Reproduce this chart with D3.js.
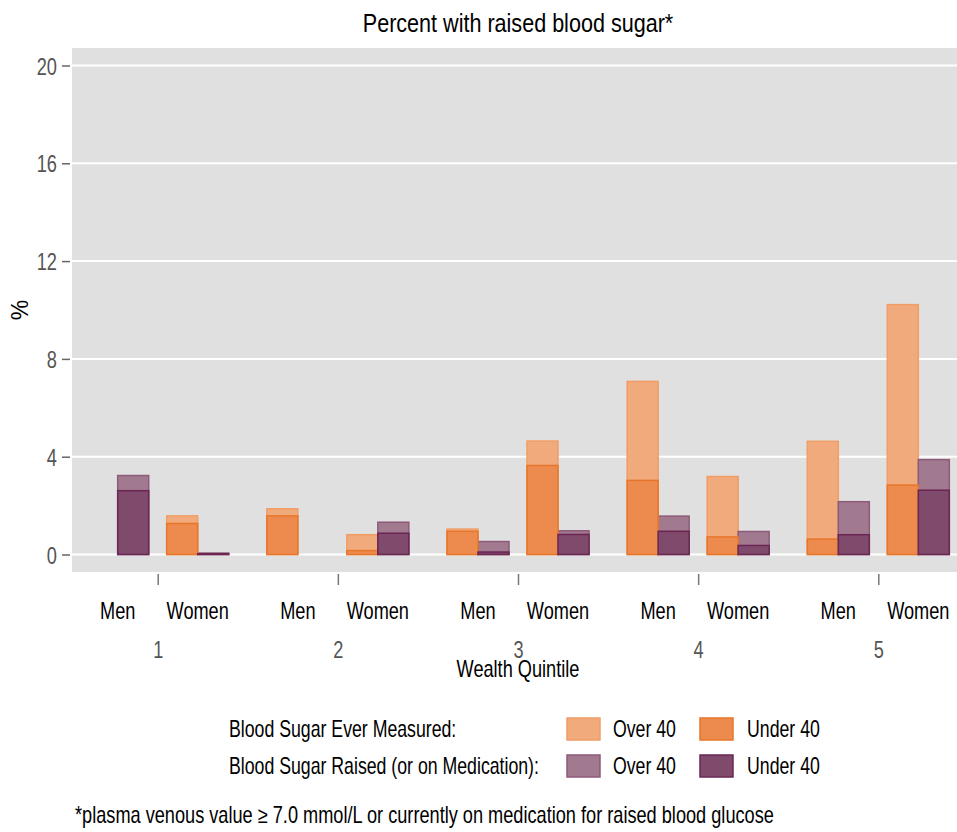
<!DOCTYPE html>
<html>
<head>
<meta charset="utf-8">
<script src="https://cdn.jsdelivr.net/npm/d3@7"></script>
<style>
  body { margin: 0; background: #fff; }
  svg text { font-family: "Liberation Sans", Arial, sans-serif; }
</style>
</head>
<body>
<svg id="svg1" width="957" height="832"></svg>
<script>
// data, order: Men 1, Women 1, Men 2, Women 2, ...
var quintiles = ["1", "2", "3", "4", "5"];
var sexes = ["Men", "Women"];
var yTicks = [0, 4, 8, 12, 16, 20];

var measuredOver40  = [0,    1.58, 1.87, 0.81, 1.04, 4.64, 7.08, 3.19, 4.63, 10.22];
var measuredUnder40 = [0,    1.27, 1.58, 0.16, 0.95, 3.64, 3.03, 0.72, 0.63, 2.84];
var raisedOver40    = [3.23, 0.06, 0,    1.32, 0.53, 0.97, 1.57, 0.94, 2.16, 3.88];
var raisedUnder40   = [2.61, 0.03, 0,    0.87, 0.10, 0.82, 0.95, 0.37, 0.81, 2.63];

var svg = d3.select("#svg1");

var plotLeft = 72, plotRight = 957, plotTop = 48, plotBottom = 572;
var narrow = 0.79;   // horizontal squeeze to mimic a condensed face

var scaleX = d3.scaleLinear().domain([1, 5]).range([157.7, 878.3]);
var scaleSex = d3.scaleBand().domain(sexes).range([-80, 80]);
var scaleSeries = d3.scaleBand().domain(["measured", "raised"]).range([-31, 31]);
var scaleY = d3.scaleLinear().domain([0, 20]).range([554.5, 65.5]);

var colors = {
  measured: { over: "#f1aa7c", overStroke: "#f19d66", under: "#ec8b4d", underStroke: "#e8762a" },
  raised:   { over: "#a27a90", overStroke: "#8e5a79", under: "#7f4a6b", underStroke: "#6b2654" }
};

// squeeze text horizontally, keeping its anchor point in place
function squeeze(sel, s) {
  sel.each(function() {
    var t = d3.select(this);
    var x = +t.attr("x") || 0;
    t.attr("x", x / s).attr("transform", "scale(" + s + ",1)");
  });
}

// background
svg.append("rect")
  .attr("x", plotLeft).attr("y", plotTop)
  .attr("width", plotRight - plotLeft).attr("height", plotBottom - plotTop)
  .attr("fill", "#e0e0e0");

// grid
svg.selectAll(".grid")
  .data(yTicks)
  .enter()
  .append("line")
    .attr("class", "grid")
    .attr("x1", plotLeft).attr("x2", plotRight)
    .attr("y1", function(d) { return scaleY(d); })
    .attr("y2", function(d) { return scaleY(d); })
    .attr("stroke", "#fff")
    .attr("stroke-width", 2);

// y axis
var yAxis = svg.append("g")
  .attr("transform", "translate(70,0)")
  .call(d3.axisLeft(scaleY).tickValues(yTicks).tickSize(8).tickPadding(5));
yAxis.select(".domain").remove();
yAxis.selectAll(".tick line").attr("stroke", "#666").attr("stroke-width", 1.5);
yAxis.selectAll(".tick text")
  .attr("fill", "#555")
  .style("font-size", "24px")
  .attr("dy", "0.36em")
  .call(squeeze, 0.76);

// x axis (quintile)
var xAxis = svg.append("g")
  .attr("transform", "translate(0,574)")
  .call(d3.axisBottom(scaleX).tickValues([1, 2, 3, 4, 5])
    .tickFormat(function(d, i) { return quintiles[i]; })
    .tickSize(11).tickPadding(57));
xAxis.select(".domain").remove();
xAxis.selectAll(".tick line").attr("stroke", "#777").attr("stroke-width", 1.5);
xAxis.selectAll(".tick text").attr("fill", "#555").style("font-size", "23px").call(squeeze, narrow);

// build group rows
var rows = [];
quintiles.forEach(function(q, qi) {
  sexes.forEach(function(s, si) {
    var k = qi * 2 + si;
    rows.push({ q: qi + 1, sex: s, series: "measured", over: measuredOver40[k], under: measuredUnder40[k] });
    rows.push({ q: qi + 1, sex: s, series: "raised", over: raisedOver40[k], under: raisedUnder40[k] });
  });
});

function barX(d) {
  return scaleX(d.q) + scaleSex(d.sex) + scaleSex.bandwidth() / 2 + scaleSeries(d.series);
}

var bars = svg.append("g");

bars.selectAll(".over")
  .data(rows.filter(function(d) { return d.over > 0; }))
  .enter()
  .append("rect")
    .attr("class", "over")
    .attr("x", barX)
    .attr("width", scaleSeries.bandwidth())
    .attr("y", function(d) { return scaleY(d.over); })
    .attr("height", function(d) { return scaleY(0) - scaleY(d.over); })
    .attr("fill", function(d) { return colors[d.series].over; })
    .attr("stroke", function(d) { return colors[d.series].overStroke; })
    .attr("stroke-width", 1.5);

bars.selectAll(".under")
  .data(rows.filter(function(d) { return d.under > 0; }))
  .enter()
  .append("rect")
    .attr("class", "under")
    .attr("x", barX)
    .attr("width", scaleSeries.bandwidth())
    .attr("y", function(d) { return scaleY(d.under); })
    .attr("height", function(d) { return scaleY(0) - scaleY(d.under); })
    .attr("fill", function(d) { return colors[d.series].under; })
    .attr("stroke", function(d) { return colors[d.series].underStroke; })
    .attr("stroke-width", 1.5);

// Men / Women labels
var sexLabels = [];
quintiles.forEach(function(q, qi) {
  sexes.forEach(function(s) { sexLabels.push({ q: qi + 1, sex: s }); });
});
svg.selectAll(".sex-label")
  .data(sexLabels)
  .enter()
  .append("text")
    .attr("class", "sex-label")
    .attr("x", function(d) { return scaleX(d.q) + scaleSex(d.sex) + scaleSex.bandwidth() / 2; })
    .attr("y", 619)
    .attr("text-anchor", "middle")
    .style("font-size", "23px")
    .text(function(d) { return d.sex; })
    .call(squeeze, narrow);

// titles
svg.append("text")
  .attr("x", 518).attr("y", 32)
  .attr("text-anchor", "middle")
  .style("font-size", "26px")
  .text("Percent with raised blood sugar*")
  .call(squeeze, 0.83);

svg.append("text")
  .attr("x", 518).attr("y", 677)
  .attr("text-anchor", "middle")
  .style("font-size", "23px")
  .text("Wealth Quintile")
  .call(squeeze, narrow);

svg.append("text")
  .attr("transform", "translate(28,310) rotate(-90)")
  .attr("text-anchor", "middle")
  .style("font-size", "23px")
  .text("%");

// legend
var legendRows = [
  { label: "Blood Sugar Ever Measured:", series: "measured", y: 729 },
  { label: "Blood Sugar Raised (or on Medication):", series: "raised", y: 766 }
];
var legend = svg.selectAll(".legend")
  .data(legendRows)
  .enter()
  .append("g")
    .attr("class", "legend")
    .attr("transform", function(d) { return "translate(0," + d.y + ")"; });

legend.append("text")
  .attr("x", 229).attr("y", 8)
  .style("font-size", "23px")
  .text(function(d) { return d.label; })
  .call(squeeze, 0.77);

legend.append("rect")
  .attr("x", 567).attr("y", -11).attr("width", 33).attr("height", 22)
  .attr("fill", function(d) { return colors[d.series].over; })
  .attr("stroke", function(d) { return colors[d.series].overStroke; })
  .attr("stroke-width", 1.5);
legend.append("text")
  .attr("x", 613).attr("y", 8)
  .style("font-size", "23px")
  .text("Over 40")
  .call(squeeze, 0.77);

legend.append("rect")
  .attr("x", 700).attr("y", -11).attr("width", 33).attr("height", 22)
  .attr("fill", function(d) { return colors[d.series].under; })
  .attr("stroke", function(d) { return colors[d.series].underStroke; })
  .attr("stroke-width", 1.5);
legend.append("text")
  .attr("x", 747).attr("y", 8)
  .style("font-size", "23px")
  .text("Under 40")
  .call(squeeze, 0.77);

// footnote
svg.append("text")
  .attr("x", 75).attr("y", 823)
  .style("font-size", "23px")
  .text("*plasma venous value \u2265 7.0 mmol/L or currently on medication for raised blood glucose")
  .call(squeeze, narrow);
</script>
</body>
</html>
